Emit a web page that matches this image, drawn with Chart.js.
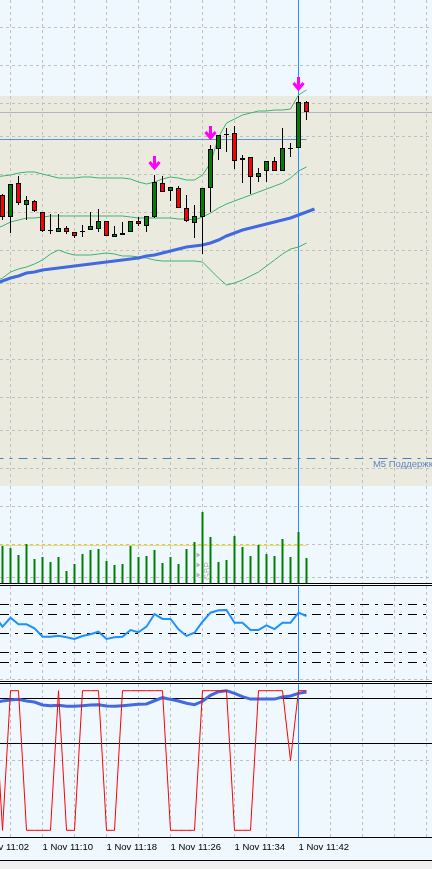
<!DOCTYPE html>
<html>
<head>
<meta charset="utf-8">
<script src="https://cdn.jsdelivr.net/npm/chart.js@4.4.1/dist/chart.umd.min.js"></script>
<style>
  body { margin: 0; background: #f0f0f0; }
  #wrap { position: relative; width: 432px; height: 869px; overflow: hidden; background: #fff; }
  #wrap canvas { position: absolute; left: 0; background: #f0f8ff; }
  .hline { position: absolute; left: 0; width: 432px; height: 1px; background: #000; }
  #foot { position: absolute; left: 0; top: 861px; width: 432px; height: 8px; background: #f0f0f0; }
</style>
</head>
<body>
<div id="wrap">
  <canvas id="mainChart" width="432" height="583" style="top:0"></canvas>
  <div class="hline" style="top:583px"></div>
  <div class="hline" style="top:585px"></div>
  <canvas id="rsiChart" width="432" height="95" style="top:586px"></canvas>
  <div class="hline" style="top:681px"></div>
  <div class="hline" style="top:683px"></div>
  <canvas id="stochChart" width="432" height="176" style="top:684px"></canvas>
  <div class="hline" style="top:837px"></div>
  <div class="hline" style="top:860px"></div>
  <div id="foot"></div>
</div>
<script>
// GBP M1 candles, bar index 0 = 11:05
const opens  = [1.60805,1.60783,1.60817,1.60795,1.60799,1.60788,1.60770,1.60768,1.60772,1.60768,1.60769,1.60770,1.60771,1.60779,1.60763,1.60765,1.60768,1.60779,1.60774,1.60783,1.60817,1.60809,1.60812,1.60792,1.60777,1.60783,1.60812,1.60851,1.60865,1.60867,1.60840,1.60843,1.60823,1.60829,1.60839,1.60829,1.60852,1.60852,1.60898];
const highs  = [1.60806,1.60816,1.60824,1.60804,1.60800,1.60788,1.60786,1.60786,1.60774,1.60768,1.60775,1.60788,1.60791,1.60779,1.60774,1.60778,1.60779,1.60783,1.60784,1.60825,1.60824,1.60813,1.60814,1.60805,1.60795,1.60812,1.60855,1.60865,1.60872,1.60874,1.60845,1.60843,1.60832,1.60839,1.60843,1.60872,1.60857,1.60904,1.60899];
const lows   = [1.60780,1.60767,1.60795,1.60780,1.60788,1.60768,1.60766,1.60768,1.60766,1.60762,1.60763,1.60770,1.60768,1.60764,1.60763,1.60765,1.60768,1.60774,1.60768,1.60782,1.60808,1.60799,1.60792,1.60778,1.60762,1.60746,1.60788,1.60840,1.60848,1.60831,1.60817,1.60806,1.60818,1.60818,1.60829,1.60829,1.60843,1.60852,1.60880];
const closes = [1.60783,1.60816,1.60797,1.60800,1.60789,1.60769,1.60769,1.60772,1.60768,1.60764,1.60768,1.60774,1.60779,1.60764,1.60766,1.60767,1.60779,1.60776,1.60784,1.60818,1.60808,1.60813,1.60792,1.60779,1.60784,1.60812,1.60851,1.60865,1.60866,1.60839,1.60842,1.60823,1.60827,1.60839,1.60829,1.60852,1.60851,1.60898,1.60888];
const volumes = [37,35,28,39,24,26,21,26,12,19,29,33,34,22,18,19,37,26,27,33,20,26,19,34,41,71,46,21,23,47,36,27,38,29,27,44,26,51,25];
const volumeAvg = 37.5;

// indicator lines start one bar earlier (index -1)
const lineStart = -1;
const bbUpper  = [1.60823,1.60824,1.60825,1.60827,1.60828,1.60828,1.60826,1.60824,1.60822,1.60822,1.60822,1.60823,1.60823,1.60822,1.60822,1.60822,1.60822,1.60821,1.60818,1.60816,1.60818,1.60821,1.60823,1.60822,1.60820,1.60820,1.60825,1.60837,1.60863,1.60877,1.60881,1.60885,1.60887,1.60889,1.60889,1.60890,1.60890,1.60891,1.60905,1.60910];
const bbMiddle = [1.60771,1.60774,1.60778,1.60780,1.60782,1.60782,1.60783,1.60784,1.60784,1.60784,1.60784,1.60784,1.60784,1.60784,1.60784,1.60784,1.60784,1.60783,1.60782,1.60782,1.60782,1.60782,1.60782,1.60781,1.60781,1.60780,1.60783,1.60787,1.60792,1.60796,1.60799,1.60802,1.60805,1.60808,1.60811,1.60814,1.60817,1.60822,1.60829,1.60833];
const bbLower  = [1.60718,1.60722,1.60728,1.60731,1.60733,1.60736,1.60740,1.60746,1.60750,1.60747,1.60745,1.60745,1.60745,1.60746,1.60747,1.60746,1.60744,1.60744,1.60743,1.60742,1.60740,1.60739,1.60739,1.60739,1.60739,1.60739,1.60738,1.60730,1.60722,1.60715,1.60717,1.60720,1.60724,1.60728,1.60734,1.60740,1.60746,1.60751,1.60753,1.60757];
const maSlow   = [1.60716,1.60719,1.60722,1.60724,1.60727,1.60728,1.60730,1.60731,1.60732,1.60733,1.60734,1.60735,1.60736,1.60737,1.60738,1.60739,1.60740,1.60741,1.60742,1.60744,1.60745,1.60747,1.60749,1.60751,1.60753,1.60754,1.60755,1.60757,1.60760,1.60764,1.60767,1.60770,1.60772,1.60774,1.60776,1.60778,1.60780,1.60782,1.60785,1.60788,1.60791];
const rsi      = [68.6,57.2,66.6,59.7,59.7,55.5,46.6,46.6,47.7,46.0,44.2,47.4,49.2,51.9,44.2,46.0,46.6,53.7,51.3,57.2,70.5,65.3,65.3,54.4,47.4,50.8,62.4,71.9,74.4,74.7,61.4,61.4,53.7,53.7,58.6,54.7,61.4,61.4,71.9,68.4];
const stochMain = [100,0,100,100,0,0,0,0,100,0,0,100,100,100,0,0,100,100,100,100,100,100,0,0,0,0,100,100,100,100,0,0,0,100,100,100,100,50,100,100];
const stochSlow = [91.5,92.6,93.3,93.8,92.6,91.9,89.8,89.3,89.5,88.8,88.8,89.3,89.8,90.0,89.0,88.8,89.3,89.8,90.3,90.5,92.8,95.0,93.8,92.6,91.0,90.0,92.4,96.7,99.3,100,98.1,95.7,94,94,94,94,95.5,96.2,98.1,99.1];

// signal arrows
const arrowBars   = [19, 26, 37];
const arrowPrices = [1.60837, 1.60867, 1.60916];

// chart objects
const rectTop = 1.60904, rectBottom = 1.60514;
const greyLevel = 1.608875;
const blueLevel = 1.608605, blueLevelEnd = 38;
const supportLevel = 1.605415;
const supportLabel = 'M5 Поддержка';
const supportLabelBar = 46.3;
const cursorBar = 37;

// axes
const priceMin = 1.60417, priceMax = 1.61;
const priceGrid = [1.609727,1.609347,1.608967,1.608637,1.608257,1.607877,1.607497,1.607163,1.606783,1.606407,1.606027,1.605693,1.605317,1.604937,1.604557,1.604227];
const rsiLevels = [20, 30, 50, 70, 80];
const rsiGrid = [1.6];
const stochMin = -4.8, stochMax = 104.8;
const stochLevels = [62.5, 94.5];
const stochGrid = [50];
const tickIndex = [-3, 5, 13, 21, 29, 37];
const tickText = ['1 Nov 11:02', '1 Nov 11:10', '1 Nov 11:18', '1 Nov 11:26', '1 Nov 11:34', '1 Nov 11:42'];

const xMin = -0.3125, xMax = 53.6875;
const gridIndex = [];
for (let k = -3; k <= 53; k += 4) gridIndex.push(k);

const gridColor = '#c0c0c0';
const gridDash = [3, 3];
const levelDash = [9, 6, 3, 6];

Chart.defaults.font.family = "'Liberation Sans', Arial, sans-serif";

function setTicks(values) {
    return scale => { scale.ticks = values.map(v => ({ value: v })); };
}

// labels may hang past the left edge, like the terminal does
function noPadding(scale) {
    scale.paddingLeft = 0;
    scale.paddingRight = 0;
    scale.paddingTop = 0;
    scale.paddingBottom = 0;
}

function toPoints(arr, start) {
    return arr.map((v, i) => ({ x: i + start, y: v }));
}

function timeAxis(showLabels) {
    return {
        type: 'linear', min: xMin, max: xMax, offset: false,
        afterBuildTicks: setTicks(gridIndex),
        afterFit: noPadding,
        grid: { color: gridColor, drawTicks: false, offset: false },
        border: { display: false, dash: gridDash },
        ticks: {
            display: showLabels, autoSkip: false, minRotation: 0, maxRotation: 0,
            align: 'start', padding: 4, color: '#000',
            font: { size: 9.5, lineHeight: '12px' },
            callback: v => {
                const i = tickIndex.indexOf(v);
                return i < 0 ? '' : tickText[i];
            }
        }
    };
}

function valueAxis(min, max, ticks, color, dash, position) {
    return {
        type: 'linear', axis: 'y', position: position || 'left', min, max,
        afterBuildTicks: setTicks(ticks),
        afterFit: noPadding,
        ticks: { display: false },
        grid: { color, drawTicks: false },
        border: { display: false, dash }
    };
}

function baseOptions(scales, padBottom) {
    return {
        responsive: false, animation: false, devicePixelRatio: 1, events: [],
        layout: { autoPadding: false, padding: { left: 0, right: 0, top: 0, bottom: padBottom || 0 } },
        plugins: { legend: { display: false }, tooltip: { enabled: false } },
        scales
    };
}

function lineSet(data, color, width, order, dash) {
    return {
        type: 'line', data, borderColor: color, borderWidth: width, borderDash: dash || [],
        pointRadius: 0, pointHoverRadius: 0, tension: 0, fill: false, order
    };
}

function cursorSet(min, max) {
    return lineSet([{ x: cursorBar, y: min }, { x: cursorBar, y: max }], '#1e90ff', 1, 20);
}

// magenta down arrow used as point style
const arrowImg = document.createElement('canvas');
arrowImg.width = 13;
arrowImg.height = 14;
(function () {
    const a = arrowImg.getContext('2d');
    a.fillStyle = '#ff00ff';
    a.strokeStyle = '#ff00ff';
    a.fillRect(5, 0, 3, 12);
    a.lineWidth = 3;
    a.beginPath();
    a.moveTo(1.5, 6);
    a.lineTo(6.5, 12);
    a.lineTo(11.5, 6);
    a.stroke();
})();

// background rectangle and text labels of the main window
const mainDecor = {
    id: 'mainDecor',
    beforeDraw(chart) {
        const { ctx, chartArea: a, scales: { y } } = chart;
        const top = y.getPixelForValue(rectTop);
        const bottom = y.getPixelForValue(rectBottom);
        ctx.save();
        ctx.fillStyle = '#ebeadf';
        ctx.fillRect(a.left, top, a.right - a.left, bottom - top);
        ctx.restore();
    },
    afterDatasetsDraw(chart) {
        const { ctx, scales: { x, y, yVol } } = chart;
        ctx.save();
        ctx.font = "9.5px 'Liberation Sans', Arial, sans-serif";
        ctx.fillStyle = '#5f84c2';
        ctx.textBaseline = 'middle';
        ctx.fillText(supportLabel, x.getPixelForValue(supportLabelBar), y.getPixelForValue(supportLevel) + 6);

        // faint symbol marker in the volume area
        const gx = x.getPixelForValue(25);
        ctx.fillStyle = '#b4b4b4';
        [28, 18, 8].forEach(v => {
            const py = yVol.getPixelForValue(v);
            ctx.beginPath();
            ctx.moveTo(gx - 6, py - 2.5);
            ctx.lineTo(gx - 2, py);
            ctx.lineTo(gx - 6, py + 2.5);
            ctx.fill();
        });
        ctx.translate(gx + 5, yVol.getPixelForValue(12));
        ctx.rotate(-Math.PI / 2);
        ctx.font = "8.5px 'Liberation Sans', Arial, sans-serif";
        ctx.textAlign = 'center';
        ctx.fillText('GBP', 0, 0);
        ctx.restore();
    }
};

const wickData = lows.map((l, i) => ({ x: i, y: [l, highs[i]] }));
const bodyData = opens.map((o, i) => ({ x: i, y: [o, closes[i]] }));
const bodyColors = opens.map((o, i) => closes[i] >= o ? '#008000' : '#ff0000');
const volData = volumes.map((v, i) => ({ x: i, y: v }));
const arrowData = arrowBars.map((k, i) => ({ x: k, y: arrowPrices[i] }));

new Chart(document.getElementById('mainChart'), {
    type: 'line',
    data: {
        datasets: [
            { type: 'scatter', data: arrowData, pointStyle: arrowImg, pointRadius: 7, order: 0 },
            { type: 'bar', data: bodyData, backgroundColor: bodyColors, borderColor: '#000', borderWidth: 1,
              borderSkipped: false, barThickness: 5, grouped: false, inflateAmount: 0, order: 1 },
            { type: 'bar', data: wickData, backgroundColor: '#000', borderWidth: 0,
              barThickness: 1, grouped: false, inflateAmount: 0, order: 2 },
            lineSet(toPoints(maSlow, lineStart), '#4169e1', 3, 3),
            lineSet(toPoints(bbUpper, lineStart), '#3cb371', 1, 4),
            lineSet(toPoints(bbMiddle, lineStart), '#3cb371', 1, 4),
            lineSet(toPoints(bbLower, lineStart), '#3cb371', 1, 4),
            { type: 'bar', data: volData, yAxisID: 'yVol', backgroundColor: '#008000', borderWidth: 0,
              barThickness: 2, grouped: false, inflateAmount: 0, order: 5 },
            Object.assign(lineSet([{ x: -1, y: volumeAvg }, { x: 38, y: volumeAvg }], '#f2e04a', 1, 6), { yAxisID: 'yVol' }),
            lineSet([{ x: -1, y: greyLevel }, { x: 60, y: greyLevel }], '#b4b4bc', 1, 7),
            lineSet([{ x: -1, y: blueLevel }, { x: blueLevelEnd, y: blueLevel }], '#5b8fe0', 1, 7),
            lineSet([{ x: -1, y: supportLevel }, { x: 60, y: supportLevel }], '#4682b4', 1, 7, levelDash),
            cursorSet(priceMin, priceMax)
        ]
    },
    options: baseOptions({
        x: timeAxis(false),
        y: valueAxis(priceMin, priceMax, priceGrid, gridColor, gridDash),
        yVol: { type: 'linear', axis: 'y', position: 'right', display: false, min: 0, max: 583 }
    }),
    plugins: [mainDecor]
});

new Chart(document.getElementById('rsiChart'), {
    type: 'line',
    data: {
        datasets: [
            lineSet(toPoints(rsi, lineStart), '#1e90ff', 2, 1),
            cursorSet(0, 100)
        ]
    },
    options: baseOptions({
        x: timeAxis(false),
        y: valueAxis(0, 100, rsiLevels, '#000', levelDash),
        yGrid: valueAxis(0, 100, rsiGrid, gridColor, gridDash)
    })
});

new Chart(document.getElementById('stochChart'), {
    type: 'line',
    data: {
        datasets: [
            lineSet(toPoints(stochMain, lineStart), '#ff0000', 1, 1),
            lineSet(toPoints(stochSlow, lineStart), '#4169e1', 3, 2),
            cursorSet(stochMin, stochMax)
        ]
    },
    options: baseOptions({
        x: timeAxis(true),
        y: valueAxis(stochMin, stochMax, stochLevels, '#000', []),
        yGrid: valueAxis(stochMin, stochMax, stochGrid, gridColor, gridDash)
    }, 3)
});
</script>
</body>
</html>
